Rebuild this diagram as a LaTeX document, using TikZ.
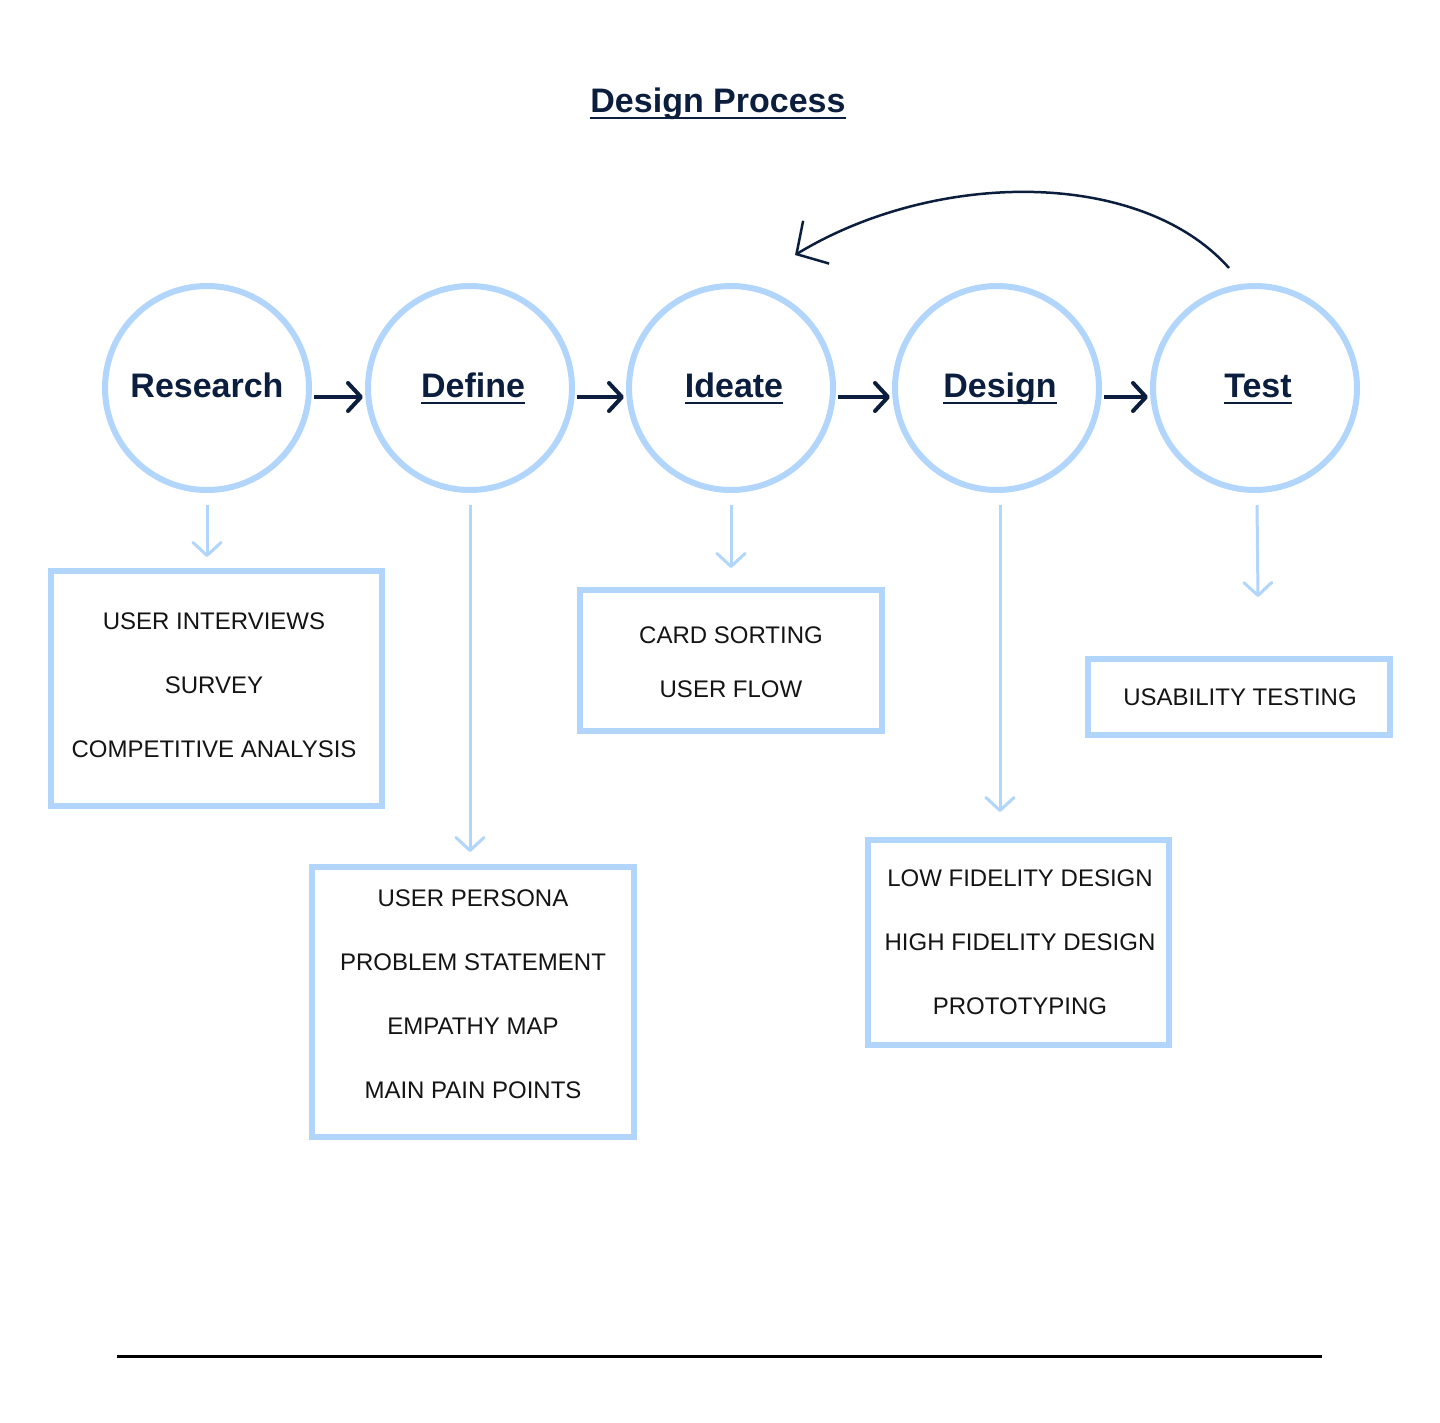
\documentclass[tikz,border=0pt]{standalone}
\usepackage{fontspec}
\setmainfont{Liberation Sans}
\usetikzlibrary{arrows.meta,calc}
\definecolor{navy}{HTML}{0C1E3E}
\definecolor{lblue}{HTML}{B2D5FC}
\definecolor{ink}{HTML}{141414}
\begin{document}
\begin{tikzpicture}[x=1pt,y=-1pt,
  stage/.style={circle,draw=lblue,line width=6pt,minimum size=204pt,inner sep=0pt},
  lbl/.style={anchor=base,inner sep=0pt,text=navy,font=\fontsize{34}{40}\selectfont\bfseries},
  ulin/.style={draw=navy,line width=2.5pt},
  darr/.style={draw=navy,line width=4pt,-{Straight Barb[length=13pt,width=28pt,round]}},
  larr/.style={draw=lblue,line width=3pt,-{Straight Barb[length=13pt,width=28pt,round]}},
  carr/.style={draw=navy,line width=2.5pt,-{Straight Barb[length=23pt,width=50pt]}},
  itembox/.style={draw=lblue,line width=6pt,inner sep=0pt},
  itemtxt/.style={inner sep=0pt,align=center,text=ink,font=\fontsize{24}{64}\selectfont},
]
\useasboundingbox (0,0) rectangle (1440,1422);
\fill[white] (0,0) rectangle (1440,1422);

% title
\node[lbl] (title) at (718,112) {Design Process};
\draw[ulin] ([yshift=-6pt]title.base west) -- ([yshift=-6pt]title.base east);

% stages
\node[stage] (research) at (207,388) {};
\node[stage] (define)   at (470,388) {};
\node[stage] (ideate)   at (731,388) {};
\node[stage] (design)   at (997,388) {};
\node[stage] (test)     at (1255,388) {};

\node[lbl] (researchL) at ([yshift=-9pt]research.center) {Research};
\node[lbl] (defineL) at ([shift={(3pt,-9pt)}]define.center) {Define};
\node[lbl] (ideateL) at ([shift={(3pt,-9pt)}]ideate.center) {Ideate};
\node[lbl] (designL) at ([shift={(3pt,-9pt)}]design.center) {Design};
\node[lbl] (testL) at ([shift={(3pt,-9pt)}]test.center) {Test};
\foreach \n in {defineL,ideateL,designL,testL}
  \draw[ulin] ([yshift=-6pt]\n.base west) -- ([yshift=-6pt]\n.base east);

% flow arrows
\draw[darr] ([shift={(2pt,-9pt)}]research.east) -- ([shift={(-2pt,-9pt)}]define.west);
\draw[darr] ([shift={(2pt,-9pt)}]define.east) -- ([shift={(-2pt,-9pt)}]ideate.west);
\draw[darr] ([shift={(2pt,-9pt)}]ideate.east) -- ([shift={(-2pt,-9pt)}]design.west);
\draw[darr] ([shift={(2pt,-9pt)}]design.east) -- ([shift={(-2pt,-9pt)}]test.west);

% loop back arrow
\coordinate (loopS) at (1229,268);
\coordinate (loopE) at (795,255);
\draw[carr] (loopS) .. controls (1140,168) and (935,170) .. (loopE);

% boxes
\node[itembox,minimum width=331pt,minimum height=235pt] (box1) at (216.5,688.5) {};
\node[itemtxt] (box1t) at (214,685) {USER INTERVIEWS\\SURVEY\\COMPETITIVE ANALYSIS};
\node[itembox,minimum width=322pt,minimum height=270pt] (box2) at (473,1002) {};
\node[itemtxt] (box2t) at (473,994) {USER PERSONA\\PROBLEM STATEMENT\\EMPATHY MAP\\MAIN PAIN POINTS};
\node[itembox,minimum width=302pt,minimum height=141pt] (box3) at (731,660.5) {};
\node[itemtxt,font=\fontsize{24}{54}\selectfont] (box3t) at (731,662) {CARD SORTING\\USER FLOW};
\node[itembox,minimum width=301pt,minimum height=205pt] (box4) at (1018.5,942.5) {};
\node[itemtxt] (box4t) at (1020,942) {LOW FIDELITY DESIGN\\HIGH FIDELITY DESIGN\\PROTOTYPING};
\node[itembox,minimum width=302pt,minimum height=76pt] (box5) at (1239,697) {};
\node[itemtxt] (box5t) at (1240,697) {USABILITY TESTING};

% down arrows
\draw[larr] ([yshift=-12pt]research.south) -- ([yshift=11pt]research.south |- box1.north);
\draw[larr] ([yshift=-12pt]define.south) -- ([yshift=12pt]define.south |- box2.north);
\draw[larr] ([yshift=-12pt]ideate.south) -- ([yshift=19pt]ideate.south |- box3.north);
\draw[larr] ([shift={(3pt,-12pt)}]design.south) -- ([shift={(3pt,25pt)}]design.south |- box4.north);
\draw[larr] ([shift={(2pt,-12pt)}]test.south) -- ([shift={(3pt,59pt)}]test.south |- box5.north);

% bottom rule
\coordinate (ruleL) at (117,1356);
\coordinate (ruleR) at (1322,1356);
\draw[line width=3pt,black] (ruleL) -- (ruleR);
\end{tikzpicture}
\end{document}
